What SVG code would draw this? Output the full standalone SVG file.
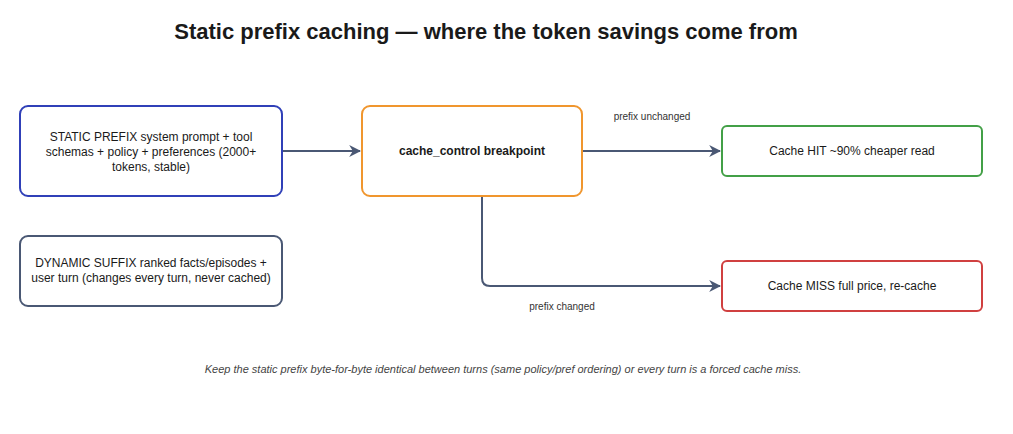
<svg xmlns="http://www.w3.org/2000/svg" width="1013" height="434" viewBox="0 0 1013 434">
<style>
text{font-family:"Liberation Sans",Arial,sans-serif;fill:#1a1a1a;font-size:12px;text-anchor:middle}
.box{fill:#fff;stroke-width:2}
.e{fill:none;stroke:#4a5874;stroke-width:2}
.lbl{font-size:10px;fill:#333}
</style>
<defs>
<marker id="b" viewBox="0 0 10 10" refX="9" refY="5" markerWidth="12" markerHeight="12" orient="auto" markerUnits="userSpaceOnUse"><path d="M0,0L10,5L0,10L3,5z" fill="#4a5874"/></marker></defs>
<rect width="1013" height="434" fill="#fff"/>
<text x="486" y="39" style="font-size:22px;font-weight:bold">Static prefix caching — where the token savings come from</text>
<g id="connectors">
<path class="e" d="M282,151H360" marker-end="url(#b)"/>
<path class="e" d="M582,151H720" marker-end="url(#b)"/>
<path class="e" d="M482,196V278Q482,286 490,286H720" marker-end="url(#b)"/>
<text class="lbl" x="652" y="120">prefix unchanged</text>
<text class="lbl" x="562" y="310">prefix changed</text>
</g>
<g id="static"><rect class="box" x="20" y="106" width="262" height="90" rx="8" stroke="#3040b8"/>
<text x="151" y="141">STATIC PREFIX system prompt + tool</text><text x="151" y="156">schemas + policy + preferences (2000+</text><text x="151" y="171">tokens, stable)</text></g>
<g id="dynamic"><rect class="box" x="20" y="236" width="262" height="70" rx="8" stroke="#4a5874"/>
<text x="151" y="267">DYNAMIC SUFFIX ranked facts/episodes +</text><text x="151" y="282">user turn (changes every turn, never cached)</text></g>
<g id="breakpoint"><rect class="box" x="362" y="106" width="220" height="90" rx="8" stroke="#f0962e"/>
<text x="472" y="155" style="font-weight:bold">cache_control breakpoint</text></g>
<g id="hit"><rect class="box" x="722" y="126" width="260" height="50" rx="5" stroke="#43a047"/>
<text x="852" y="155">Cache HIT ~90% cheaper read</text></g>
<g id="miss"><rect class="box" x="722" y="261" width="260" height="50" rx="5" stroke="#d04040"/>
<text x="852" y="290">Cache MISS full price, re-cache</text></g>
<text x="503" y="373" style="font-size:11px;font-style:italic;fill:#444">Keep the static prefix byte-for-byte identical between turns (same policy/pref ordering) or every turn is a forced cache miss.</text>
</svg>
